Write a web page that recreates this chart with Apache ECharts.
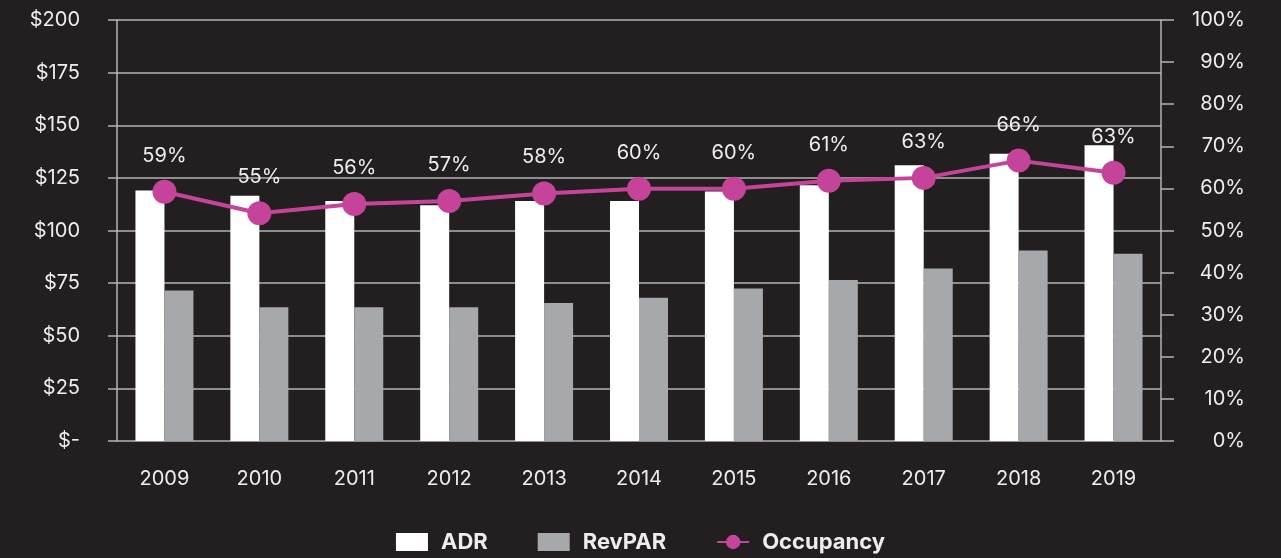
<!DOCTYPE html>
<html>
<head>
<meta charset="utf-8">
<script src="https://cdn.jsdelivr.net/npm/echarts@6/dist/echarts.min.js"></script>
<style>
  html, body { margin: 0; padding: 0; background: #231f20; }
  #chart { width: 1281px; height: 558px; }
</style>
</head>
<body>
<div id="chart"></div>
<script>
const years = ['2009', '2010', '2011', '2012', '2013', '2014', '2015', '2016', '2017', '2018', '2019'];
const adr = [119, 116.5, 114, 112, 114, 114, 118.5, 121.5, 131, 136.5, 140.5];
const revpar = [71.5, 63.5, 63.5, 63.5, 65.5, 68, 72.5, 76.5, 82, 90.5, 89];
const occupancy = [59.2, 54.1, 56.3, 57, 58.8, 59.9, 59.9, 61.8, 62.5, 66.6, 63.7];
const occLabels = ['59%', '55%', '56%', '57%', '58%', '60%', '60%', '61%', '63%', '66%', '63%'];

const textColor = '#ededed';
const lineGray = '#b5b5b5';
const pink = '#c5449a';
const font = 'Inter';

const chart = echarts.init(document.getElementById('chart'));
chart.setOption({
  backgroundColor: '#231f20',
  animation: false,
  grid: { left: 117, right: 120, top: 20, bottom: 117 },
  legend: {
    bottom: 0,
    left: 'center',
    itemWidth: 32,
    itemHeight: 18,
    itemGap: 50,
    textStyle: { color: textColor, fontFamily: font, fontWeight: 'bold', fontSize: 22, padding: [0, 0, 0, 8] },
    data: [
      { name: 'ADR', icon: 'rect' },
      { name: 'RevPAR', icon: 'rect' },
      { name: 'Occupancy' }
    ]
  },
  xAxis: {
    type: 'category',
    data: years,
    axisLine: { show: false },
    axisTick: { show: false },
    axisLabel: { color: textColor, fontFamily: font, fontSize: 20, margin: 28 }
  },
  yAxis: [
    {
      type: 'value',
      min: 0,
      max: 200,
      interval: 25,
      axisLine: { show: true, lineStyle: { color: lineGray, width: 1.5 } },
      axisTick: { show: true, length: 9, lineStyle: { color: lineGray, width: 1.5 } },
      splitLine: { lineStyle: { color: lineGray, width: 1.5 } },
      axisLabel: {
        color: textColor, fontFamily: font, fontSize: 20, margin: 37,
        formatter: (v) => (v === 0 ? '$-' : '$' + v)
      }
    },
    {
      type: 'value',
      min: 0,
      max: 100,
      interval: 10,
      position: 'right',
      axisLine: { show: true, lineStyle: { color: lineGray, width: 1.5 } },
      axisTick: { show: true, length: 13, lineStyle: { color: lineGray, width: 1.5 } },
      splitLine: { show: false },
      axisLabel: {
        color: textColor, fontFamily: font, fontSize: 20, margin: 84, align: 'right',
        formatter: '{value}%'
      }
    }
  ],
  series: [
    {
      name: 'ADR',
      type: 'bar',
      data: adr,
      barWidth: 29,
      barGap: '0%',
      itemStyle: { color: '#ffffff' }
    },
    {
      name: 'RevPAR',
      type: 'bar',
      data: revpar,
      barWidth: 29,
      barGap: '0%',
      itemStyle: { color: '#a7a8ab' }
    },
    {
      name: 'Occupancy',
      type: 'line',
      yAxisIndex: 1,
      data: occupancy,
      symbol: 'circle',
      symbolSize: 24,
      lineStyle: { color: pink, width: 4 },
      itemStyle: { color: pink },
      label: {
        show: true,
        position: 'top',
        distance: 14,
        color: textColor,
        fontFamily: font,
        fontSize: 20,
        formatter: (p) => occLabels[p.dataIndex]
      }
    }
  ]
});
</script>
</body>
</html>
